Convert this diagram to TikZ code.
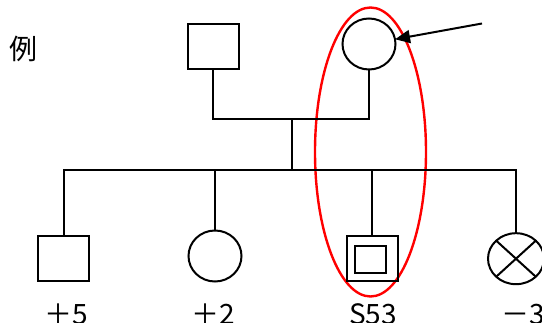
\documentclass[tikz,border=0pt]{standalone}
\usepackage{fontspec}
\newfontfamily\jp{Noto Sans CJK JP}
\usetikzlibrary{arrows.meta,shapes.geometric}
\begin{document}
\begin{tikzpicture}[x=1pt,y=-1pt,
  sym/.style={draw=black,line width=2pt,inner sep=0pt,outer sep=0pt,fill=none},
  male/.style={sym,rectangle,minimum width=51pt,minimum height=45pt},
  female/.style={sym,ellipse,minimum width=53pt,minimum height=51pt},
  link/.style={line width=2pt,draw=black},
  lbl/.style={font=\jp\fontsize{28}{28}\selectfont,anchor=base,inner sep=0pt},
  hilite/.style={draw=red,line width=2.4pt,ellipse,minimum width=111pt,minimum height=289pt,inner sep=0pt}]
\useasboundingbox (0,0) rectangle (542,323);
% highlight
\node[hilite] (focus) at (370.5,152) {};
% title
\node[lbl,anchor=center] (rei) at (23.5,49) {例};
% parents
\node[male] (father) at (213,47) {};
\node[female] (mother) at (369,44) {};
\coordinate (mar) at (292,119.5);
\coordinate (sib) at (292,170);
% children
\node[male] (c1) at (63.6,259) {};
\node[female] (c2) at (215,256) {};
\node[male] (c3) at (372,259) {};
\node[sym,rectangle,minimum width=31pt,minimum height=27.5pt] (c3in) at (370.7,259.6) {};
\node[female,minimum width=56pt,minimum height=51pt] (c4) at (516,258.7) {};
\draw[link] (c4.north west) -- (c4.south east);
\draw[link] (c4.north east) -- (c4.south west);
% connectors
\draw[link] (father.south) |- (mar) -| (mother.south);
\draw[link] (mar) -- (sib);
\draw[link] (c1.north) |- (sib) -| (c4.north);
\draw[link] (sib -| c2.north) -- (c2.north);
\draw[link] (sib -| c3.north) -- (c3.north);
% proband arrow
\coordinate (astart) at (482,23.5);
\draw[link,-{Triangle[length=15pt,width=13pt]}] (astart) -- (mother);
% labels
\node[lbl] (l1) at (66,325) {＋5};
\node[lbl] (l2) at (213.5,325) {＋2};
\node[lbl] (l3) at (373,325) {S53};
\node[lbl] (l4) at (523,325) {－3};
\end{tikzpicture}
\end{document}
